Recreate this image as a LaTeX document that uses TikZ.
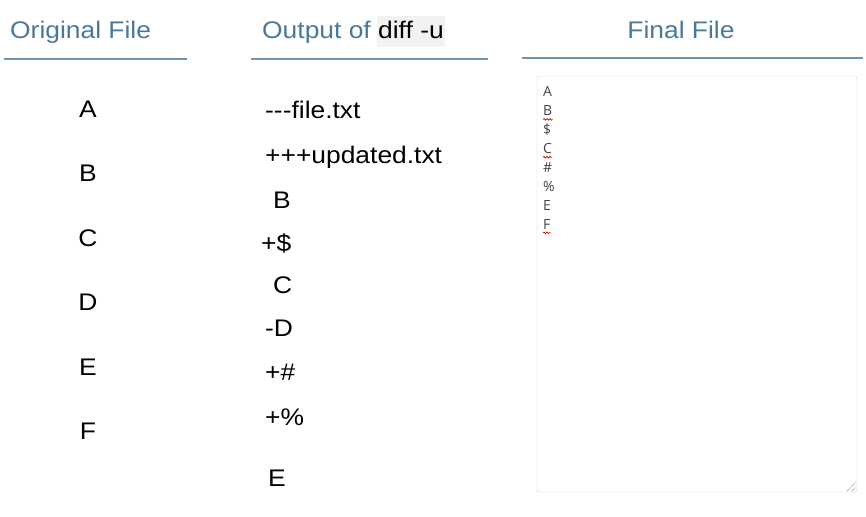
\documentclass[tikz,border=0pt]{standalone}
\usepackage{fontspec}
\setmainfont{Liberation Sans}[FakeStretch=1.1]
\newfontfamily\areafont{Open Sans}
\usetikzlibrary{decorations.pathmorphing}
\definecolor{headblue}{RGB}{74,121,152}
\definecolor{rulecol}{RGB}{112,148,172}
\definecolor{codebg}{RGB}{242,242,242}
\definecolor{areaborder}{RGB}{205,205,205}
\definecolor{areatext}{RGB}{68,68,68}

\begin{document}
\begin{tikzpicture}[x=1pt,y=-1pt,
	head/.style={text=headblue,font=\fontsize{24}{28}\selectfont,inner sep=0pt,anchor=base west},
	headrule/.style={draw=rulecol,line width=2pt},
	letter/.style={font=\fontsize{24}{28}\selectfont,inner sep=0pt,anchor=base},
	diffline/.style={font=\fontsize{24}{28}\selectfont,inner sep=0pt,anchor=base west},
	arealine/.style={font=\areafont\fontsize{14}{16}\selectfont,text=areatext,inner sep=0pt,anchor=base west},
	spell/.style={draw=red!80!black,line width=0.7pt,decorate,decoration={snake,amplitude=0.8pt,segment length=3pt}}]
\useasboundingbox (0,0) rectangle (866,516);
% headings
\node[head] (orighead) at (10,39) {Original File};
\node[head] (outputof) at (262,39) {Output of};
\node[head,anchor=base west,text=black,fill=codebg,inner xsep=1pt,text height=23pt,text depth=8pt] (diffu) at ([xshift=6pt]outputof.base east) {diff -u};
\node[head,anchor=base] (finalhead) at (681,39) {Final File};
\draw[headrule] (4,59) -- (187,59);
\draw[headrule] (251,59) -- (488,59);
\draw[headrule] (522,58) -- (863,58);
% original file
\foreach \l [count=\i from 0] in {A,B,C,D,E,F}
{
	\node[letter] (orig\l) at (88,{117.5+64.4*\i}) {\l};
}
% diff -u
\node[diffline] (dminus) at (265,118) {-{}-{}-file.txt};
\node[diffline] (dplus) at (265,163) {+++updated.txt};
\node[diffline] (dB) at (273,208) {B};
\node[diffline] (ddollar) at (261,251) {+\$};
\node[diffline] (dC) at (273,293) {C};
\node[diffline] (dD) at (265,336) {-D};
\node[diffline] (dhash) at (265,380) {+\#};
\node[diffline] (dpercent) at (265,425) {+\%};
\node[diffline] (dE) at (268,486) {E};
% final file
\draw[areaborder,rounded corners=2pt] (537,76) rectangle (857,492);
\foreach \t [count=\i from 0] in {A,B,\$,C,\#,\%,E,F}
{
	\node[arealine] (ln\i) at (543,{97+18.9*\i}) {\t};
}
\foreach \i in {1,3,7}
{
	\draw[spell] ([yshift=-3.5pt]ln\i.base west) -- ([yshift=-3.5pt]ln\i.base east);
}
\draw[gray!80,densely dotted,line width=0.8pt] (847,491) -- (856,482);
\draw[gray!80,densely dotted,line width=0.8pt] (852,491) -- (856,487);
\end{tikzpicture}
\end{document}
